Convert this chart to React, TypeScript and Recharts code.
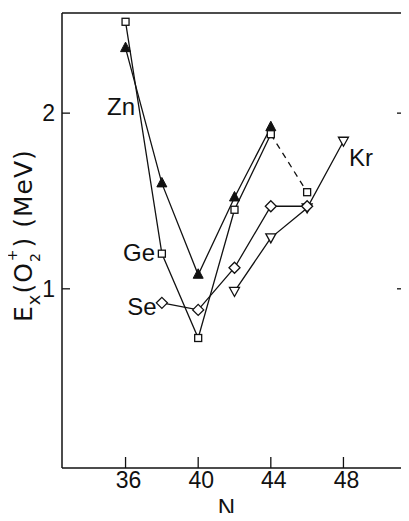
import React from "react";
import { ComposedChart, Line, XAxis, YAxis, ReferenceDot, Label } from "recharts";

// neutron number ticks and energy ticks
const xTicks = [36, 40, 44, 48];
const topTicks = [40, 44, 48];
const yTicks = [1, 2];

// Ex(0+2) in MeV
const znN = [36, 38, 40, 42, 44];
const znE = [2.37, 1.6, 1.08, 1.52, 1.92];
const geN = [36, 38, 40, 42, 44];
const geE = [2.52, 1.2, 0.72, 1.45, 1.88];
const geDashN = [44, 46];
const geDashE = [1.88, 1.55];
const seN = [38, 40, 42, 44, 46];
const seE = [0.92, 0.88, 1.12, 1.47, 1.47];
const krN = [42, 44, 46, 48];
const krE = [0.985, 1.29, 1.46, 1.84];

const labelNames = ["Zn", "Ge", "Se", "Kr"];
const labelN = [35.75, 36.74, 36.9, 48.96];
const labelE = [2.036, 1.207, 0.9, 1.747];

const ink = "#111";
const font = "'Liberation Sans', Arial, sans-serif";
const wide = "'DejaVu Sans', sans-serif";

const toRows = (ns: number[], es: number[]) => ns.map((n, i) => ({ n, e: es[i] }));

const Square = (p: any) => (
  <rect x={p.cx - 3.5} y={p.cy - 3.5} width={7} height={7} fill="#fff" stroke={ink} strokeWidth={1.3} />
);
const TriUp = (p: any) => (
  <polygon points={`${p.cx},${p.cy - 6} ${p.cx + 5},${p.cy + 3.5} ${p.cx - 5},${p.cy + 3.5}`} fill={ink} stroke={ink} />
);
const Diamond = (p: any) => (
  <polygon
    points={`${p.cx},${p.cy - 5.5} ${p.cx + 5.5},${p.cy} ${p.cx},${p.cy + 5.5} ${p.cx - 5.5},${p.cy}`}
    fill="#fff"
    stroke={ink}
    strokeWidth={1.3}
  />
);
const TriDown = (p: any) => (
  <polygon points={`${p.cx - 5},${p.cy - 4} ${p.cx + 5},${p.cy - 4} ${p.cx},${p.cy + 5}`} fill="#fff" stroke={ink} strokeWidth={1.3} />
);

const BottomTick = ({ x, y, payload }: any) => (
  <g>
    <line x1={x} x2={x} y1={y} y2={y - 11} stroke={ink} strokeWidth={1.3} />
    <text x={x + 3} y={y + 20} textAnchor="middle" fontSize={23} fontFamily={font} fill={ink}>
      {payload.value}
    </text>
  </g>
);
const TopTick = ({ x, y }: any) => <line x1={x} x2={x} y1={y} y2={y + 9} stroke={ink} strokeWidth={1.3} />;
const LeftTick = ({ x, y, payload }: any) => (
  <g>
    <line x1={x} x2={x + 8} y1={y} y2={y} stroke={ink} strokeWidth={1.3} />
    <text x={x - 7} y={y + 8} textAnchor="end" fontSize={23} fontFamily={font} fill={ink}>
      {payload.value}
    </text>
  </g>
);
const RightTick = ({ x, y }: any) => <line x1={x} x2={x - 10} y1={y} y2={y} stroke={ink} strokeWidth={1.3} />;

const YTitle = ({ viewBox }: any) => (
  <text
    transform="rotate(-90)"
    x={-322}
    y={viewBox.x - 29}
    fontSize={25}
    fontFamily={wide}
    letterSpacing={1}
    fill={ink}
  >
    E
    <tspan fontSize={18} dy={8}>x</tspan>
    <tspan dy={-8}>(O</tspan>
    <tspan fontSize={14} dy={8}>2</tspan>
    <tspan fontSize={14} dx={-9} dy={-23}>+</tspan>
    <tspan dx={1} dy={15}>) (MeV)</tspan>
  </text>
);

const XTitle = ({ viewBox }: any) => (
  <text x={226.5} y={viewBox.y + 48} textAnchor="middle" fontSize={24} fontFamily={font} fill={ink}>
    N
  </text>
);

export default function App() {
  const xDomain = [32.5, 51.5];
  const yDomain = [-0.02, 2.57];
  const lineProps = { type: "linear" as const, dataKey: "e", stroke: ink, strokeWidth: 1.3, isAnimationActive: false };
  const axisLine = { stroke: ink, strokeWidth: 1.5 };

  return (
    <div style={{ margin: -8, width: 409, height: 521 }}>
      <ComposedChart width={409} height={521} margin={{ top: 12, right: 1, bottom: 52, left: 61 }}>
        <XAxis
          dataKey="n"
          type="number"
          domain={xDomain}
          ticks={xTicks}
          height={1}
          tickSize={0}
          tickMargin={0}
          tickLine={false}
          axisLine={axisLine}
          tick={<BottomTick />}
          allowDataOverflow
        >
          <Label content={<XTitle />} />
        </XAxis>
        <XAxis
          xAxisId="top"
          orientation="top"
          type="number"
          domain={xDomain}
          ticks={topTicks}
          height={1}
          tickSize={0}
          tickMargin={0}
          tickLine={false}
          axisLine={axisLine}
          tick={<TopTick />}
          allowDataOverflow
        />
        <YAxis
          type="number"
          domain={yDomain}
          ticks={yTicks}
          width={1}
          tickSize={0}
          tickMargin={0}
          tickLine={false}
          axisLine={axisLine}
          tick={<LeftTick />}
          allowDataOverflow
        >
          <Label content={<YTitle />} />
        </YAxis>
        <YAxis
          yAxisId="right"
          orientation="right"
          type="number"
          domain={yDomain}
          ticks={yTicks}
          width={1}
          tickSize={0}
          tickMargin={0}
          tickLine={false}
          axisLine={axisLine}
          tick={<RightTick />}
          allowDataOverflow
        />

        <Line {...lineProps} data={toRows(geDashN, geDashE)} strokeDasharray="6 5" dot={false} />
        <Line {...lineProps} data={toRows(krN, krE)} dot={<TriDown />} />
        <Line {...lineProps} data={toRows(seN, seE)} dot={<Diamond />} />
        <Line {...lineProps} data={toRows(znN, znE)} dot={<TriUp />} />
        <Line {...lineProps} data={toRows(geN, geE)} dot={<Square />} />
        <Line {...lineProps} data={toRows(geDashN.slice(1), geDashE.slice(1))} dot={<Square />} />

        {labelNames.map((name, i) => (
          <ReferenceDot
            key={name}
            x={labelN[i]}
            y={labelE[i]}
            r={0}
            ifOverflow="visible"
            shape={(p: any) => (
              <text x={p.cx} y={p.cy} textAnchor="middle" dominantBaseline="central" fontSize={24} fontFamily={font} fill={ink}>
                {name}
              </text>
            )}
          />
        ))}
      </ComposedChart>
    </div>
  );
}
